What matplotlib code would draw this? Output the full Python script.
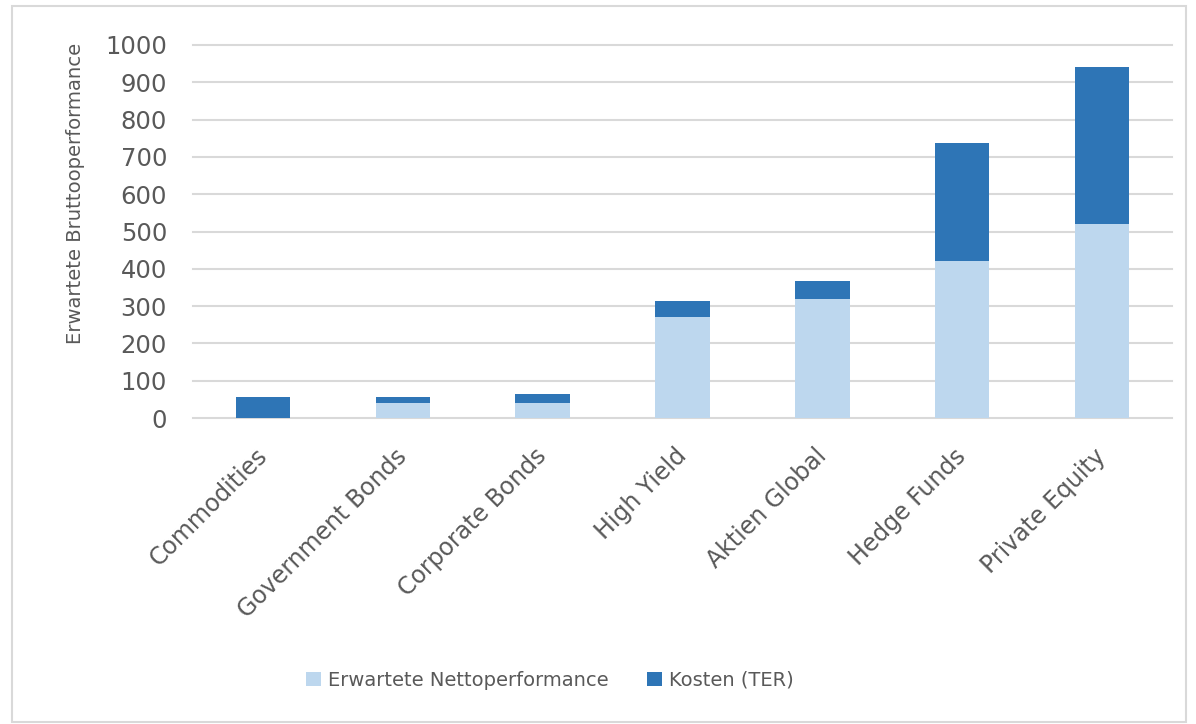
import matplotlib
matplotlib.use("Agg")
import matplotlib.pyplot as plt
from matplotlib.patches import Rectangle
import matplotlib.transforms as mtransforms
import numpy as np

categories = ["Commodities", "Government Bonds", "Corporate Bonds", "High Yield",
              "Aktien Global", "Hedge Funds", "Private Equity"]
netto = [0, 40, 40, 270, 320, 420, 520]
kosten = [55, 15, 24, 45, 47, 317, 420]
yticks = [0, 100, 200, 300, 400, 500, 600, 700, 800, 900, 1000]

plt.rcParams['font.family'] = ['DejaVu Sans']
TXT = '#595959'
LIGHT = '#BDD7EE'
DARK = '#2E75B6'
GRID = '#D9D9D9'

W, H = 1196, 724
fig = plt.figure(figsize=(W / 100, H / 100), dpi=100)
fig.patches.append(Rectangle((12 / W, 1 - 722 / H), (1186 - 12) / W, (722 - 6) / H,
                             transform=fig.transFigure, fill=False,
                             edgecolor='#D9D9D9', linewidth=1.5))

ax = fig.add_axes([193 / W, 1 - 418 / H, (1172 - 193) / W, (418 - 45) / H])
x = np.arange(len(categories))
ax.bar(x, netto, width=0.39, color=LIGHT, label='Erwartete Nettoperformance', zorder=3)
ax.bar(x, kosten, width=0.39, bottom=netto, color=DARK, label='Kosten (TER)', zorder=3)

ax.set_xlim(-0.5, len(categories) - 0.5)
ax.set_ylim(0, 1000)
for yv in yticks:
    ax.axhline(yv, color=GRID, linewidth=1.5, zorder=1, clip_on=False)
for s in ax.spines.values():
    s.set_visible(False)
ax.set_yticks(yticks)
ax.set_yticklabels([str(v) for v in yticks], fontsize=17.5, color=TXT)
ax.tick_params(axis='y', length=0, pad=18.7)
ax.set_xticks(x)
ax.set_xticklabels(categories, rotation=45, ha='right', va='top',
                   rotation_mode='anchor', fontsize=17, color=TXT)
ax.tick_params(axis='x', length=0, pad=0)
off = mtransforms.ScaledTranslation(-8 / 100, -26 / 100, fig.dpi_scale_trans)
for lbl in ax.get_xticklabels():
    lbl.set_transform(lbl.get_transform() + off)

fig.text(76 / W, 1 - 193 / H, 'Erwartete Bruttooperformance', rotation=90,
         ha='center', va='center', fontsize=14.1, color=TXT)

leg = fig.legend(loc='center', bbox_to_anchor=(550 / W, 1 - 680 / H), ncol=2,
                 frameon=False, fontsize=14, handlelength=0.75, handleheight=0.75,
                 handletextpad=0.35, columnspacing=2.0)
for t in leg.get_texts():
    t.set_color(TXT)

fig.savefig('out.png', dpi=100)
